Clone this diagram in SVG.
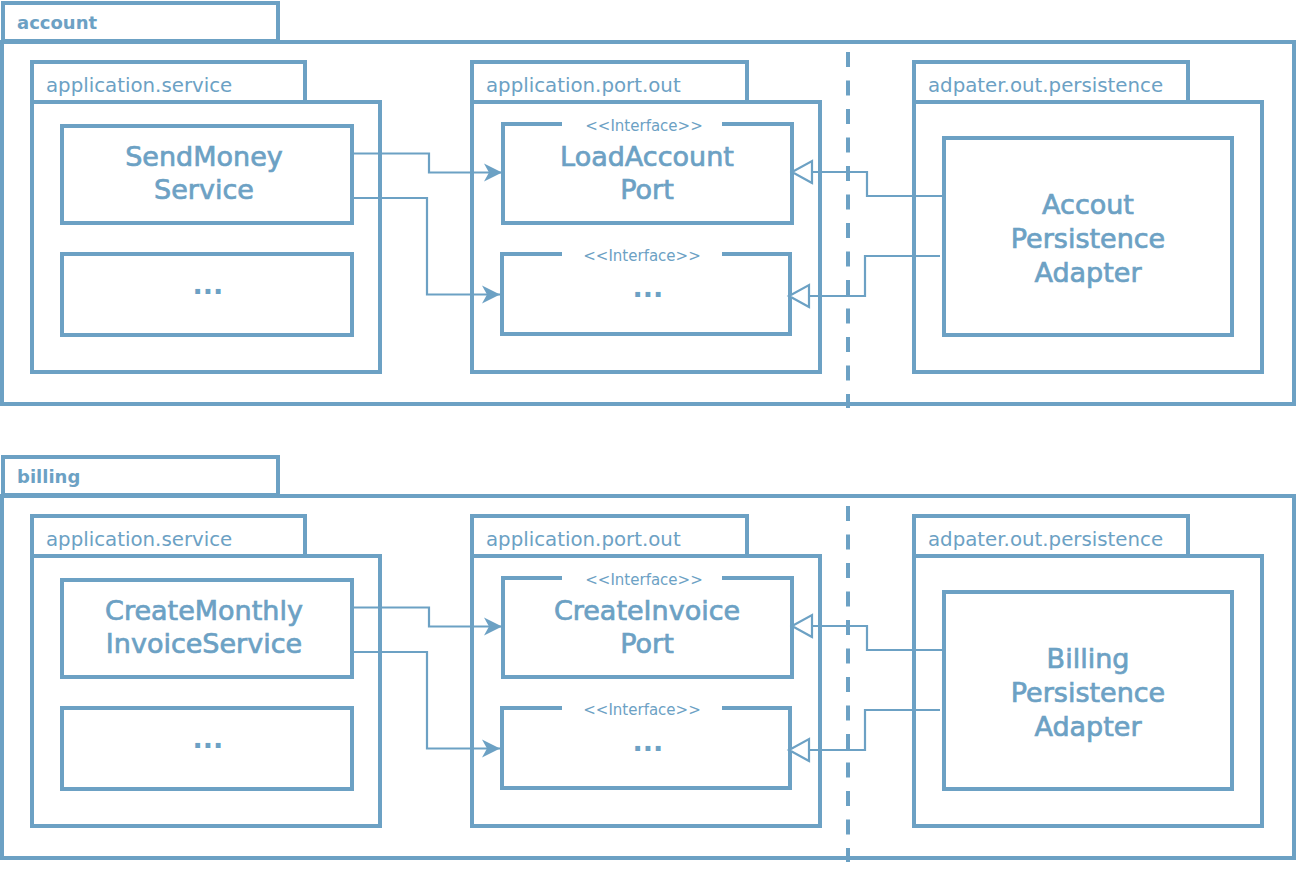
<svg xmlns="http://www.w3.org/2000/svg" width="1296" height="876" viewBox="0 0 1296 876">
<style>
.f{fill:#fff;stroke:#6ca1c4;stroke-width:4}
.b{fill:none;stroke:#6ca1c4;stroke-width:4}
.c{fill:none;stroke:#6ca1c4;stroke-width:2.2}
.d{fill:none;stroke:#6ca1c4;stroke-width:4;stroke-dasharray:15 13.5}
text{font-family:"DejaVu Sans",sans-serif;fill:#6ca1c4}
.pk{font-size:18px;font-weight:bold}
.tb{font-size:19.8px}
.st{font-size:15px;text-anchor:middle}
.nm{font-size:27px;text-anchor:middle;stroke:#6ca1c4;stroke-width:0.7}
.dt{font-size:27px;text-anchor:middle;font-weight:bold}
</style>
<defs>
<marker id="arr" viewBox="0 0 20 20" refX="19" refY="10" markerWidth="20" markerHeight="20" markerUnits="userSpaceOnUse" orient="auto">
<path d="M1,1 L19,10 L1,19 L6,10 Z" fill="#6ca1c4"/>
</marker>
<marker id="tri" viewBox="0 0 26 26" refX="22" refY="13" markerWidth="26" markerHeight="26" markerUnits="userSpaceOnUse" orient="auto">
<path d="M2,2 L22,13 L2,24 Z" fill="#fff" stroke="#6ca1c4" stroke-width="2.2"/>
</marker>
</defs>

<g id="pkg-account">
<rect class="f" x="3" y="3" width="275" height="38"/>
<rect class="f" x="2" y="42" width="1292" height="362"/>
<text class="pk" x="17" y="29">account</text>
</g>
<g id="acc-app-service">
<rect class="f" x="32" y="62" width="273" height="40"/>
<rect class="f" x="32" y="102" width="348" height="270"/>
<text class="tb" x="46" y="92">application.service</text>
</g>
<g id="acc-sendmoney">
<rect class="f" x="62" y="126" width="290" height="97"/>
<text class="nm" x="204" y="166">SendMoney</text>
<text class="nm" x="204" y="199">Service</text>
</g>
<g id="acc-service-more">
<rect class="f" x="62" y="254" width="290" height="81"/>
<text class="dt" x="208" y="294">...</text>
</g>
<g id="acc-port-out">
<rect class="f" x="472" y="62" width="275" height="40"/>
<rect class="f" x="472" y="102" width="348" height="270"/>
<text class="tb" x="486" y="92">application.port.out</text>
</g>
<g id="acc-loadaccount">
<rect x="503" y="124" width="289" height="99" fill="#fff"/>
<path class="b" d="M562,124 H503 V223 H792 V124 H722"/>
<text class="st" x="644" y="131">&lt;&lt;Interface&gt;&gt;</text>
<text class="nm" x="647" y="166">LoadAccount</text>
<text class="nm" x="647" y="199">Port</text>
</g>
<g id="acc-port-more">
<rect x="502" y="254" width="288" height="80" fill="#fff"/>
<path class="b" d="M562,254 H502 V334 H790 V254 H722"/>
<text class="st" x="642" y="261">&lt;&lt;Interface&gt;&gt;</text>
<text class="dt" x="648" y="297">...</text>
</g>
<g id="acc-persistence">
<rect class="f" x="914" y="62" width="274" height="40"/>
<rect class="f" x="914" y="102" width="348" height="270"/>
<text class="tb" x="928" y="92">adpater.out.persistence</text>
</g>
<g id="acc-adapter">
<rect class="f" x="944" y="138" width="288" height="197"/>
<text class="nm" x="1088" y="214">Accout</text>
<text class="nm" x="1088" y="248">Persistence</text>
<text class="nm" x="1088" y="282">Adapter</text>
</g>

<g id="pkg-billing">
<rect class="f" x="3" y="457" width="275" height="38"/>
<rect class="f" x="2" y="496" width="1292" height="362"/>
<text class="pk" x="17" y="483">billing</text>
</g>
<g id="bil-app-service">
<rect class="f" x="32" y="516" width="273" height="40"/>
<rect class="f" x="32" y="556" width="348" height="270"/>
<text class="tb" x="46" y="546">application.service</text>
</g>
<g id="bil-createmonthly">
<rect class="f" x="62" y="580" width="290" height="97"/>
<text class="nm" x="204" y="620">CreateMonthly</text>
<text class="nm" x="204" y="653">InvoiceService</text>
</g>
<g id="bil-service-more">
<rect class="f" x="62" y="708" width="290" height="81"/>
<text class="dt" x="208" y="748">...</text>
</g>
<g id="bil-port-out">
<rect class="f" x="472" y="516" width="275" height="40"/>
<rect class="f" x="472" y="556" width="348" height="270"/>
<text class="tb" x="486" y="546">application.port.out</text>
</g>
<g id="bil-createinvoice">
<rect x="503" y="578" width="289" height="99" fill="#fff"/>
<path class="b" d="M562,578 H503 V677 H792 V578 H722"/>
<text class="st" x="644" y="585">&lt;&lt;Interface&gt;&gt;</text>
<text class="nm" x="647" y="620">CreateInvoice</text>
<text class="nm" x="647" y="653">Port</text>
</g>
<g id="bil-port-more">
<rect x="502" y="708" width="288" height="80" fill="#fff"/>
<path class="b" d="M562,708 H502 V788 H790 V708 H722"/>
<text class="st" x="642" y="715">&lt;&lt;Interface&gt;&gt;</text>
<text class="dt" x="648" y="751">...</text>
</g>
<g id="bil-persistence">
<rect class="f" x="914" y="516" width="274" height="40"/>
<rect class="f" x="914" y="556" width="348" height="270"/>
<text class="tb" x="928" y="546">adpater.out.persistence</text>
</g>
<g id="bil-adapter">
<rect class="f" x="944" y="592" width="288" height="197"/>
<text class="nm" x="1088" y="668">Billing</text>
<text class="nm" x="1088" y="702">Persistence</text>
<text class="nm" x="1088" y="736">Adapter</text>
</g>

<g id="connectors">
<path class="d" d="M848,52 V408"/>
<path class="d" d="M848,506 V862"/>
<path class="c" d="M352,153.5 H429 V172.5 H502" marker-end="url(#arr)"/>
<path class="c" d="M352,198 H427 V294.5 H500" marker-end="url(#arr)"/>
<path class="c" d="M943,196 H867 V172 H792" marker-end="url(#tri)"/>
<path class="c" d="M940,256 H865 V296 H789" marker-end="url(#tri)"/>
<path class="c" d="M352,607.5 H429 V626.5 H502" marker-end="url(#arr)"/>
<path class="c" d="M352,652 H427 V748.5 H500" marker-end="url(#arr)"/>
<path class="c" d="M943,650 H867 V626 H792" marker-end="url(#tri)"/>
<path class="c" d="M940,710 H865 V750 H789" marker-end="url(#tri)"/>
</g>
</svg>
